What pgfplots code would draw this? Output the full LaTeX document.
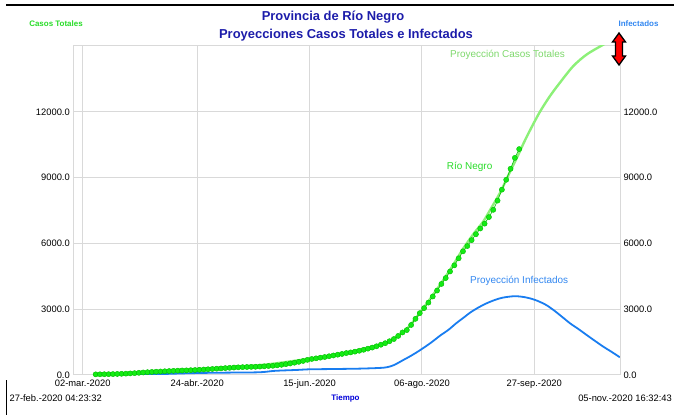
\documentclass[border=0pt]{standalone}
\usepackage{pgfplots}
\pgfplotsset{compat=1.18}
\usepackage{fontspec}
\setmainfont{Liberation Sans}

\definecolor{titleblue}{RGB}{28,28,170}
\definecolor{infblue}{RGB}{25,125,240}
\definecolor{projgreen}{RGB}{140,240,120}
\definecolor{datagreen}{RGB}{20,235,20}
\definecolor{datadark}{RGB}{0,190,0}
\definecolor{lblgreen}{RGB}{40,220,40}
\definecolor{lblblue}{RGB}{50,135,240}

\begin{document}
\begin{tikzpicture}
\useasboundingbox (0bp,0bp) rectangle (674bp,415bp);

% window decorations
\draw[black, line width=1.3bp] (6.4bp,410bp) -- (674bp,410bp);
\draw[black, line width=1bp] (6.4bp,0bp) -- (6.4bp,35bp);

\begin{axis}[
    at={(73.3bp,40bp)}, anchor=south west,
    scale only axis,
    width=546.7bp, height=329bp,
    xmin=56.65, xmax=309.66,
    ymin=0, ymax=15000,
    xtick={61,114,166,218,270},
    xticklabels={02-mar.-2020,24-abr.-2020,15-jun.-2020,06-ago.-2020,27-sep.-2020},
    ytick={0,3000,6000,9000,12000},
    yticklabels={0.0,3000.0,6000.0,9000.0,12000.0},
    scaled y ticks=false,
    grid=major,
    grid style={draw=gray!30, line width=1bp},
    axis line style={draw=gray!30, line width=1bp},
    major tick length=0pt,
    tick label style={font=\fontsize{9.4}{11}\selectfont, text=black},
    xticklabel style={yshift=-1bp},
    /pgf/number format/assume math mode=true,
    clip=true,
]
% Proyeccion Infectados
\addplot[infblue, line width=1.8bp, smooth] coordinates {
    (85.2,0) (90,20) (100,50) (110,80) (120,100) (130,110) (143,125)
    (150,190) (160,230) (166,260) (175,270) (189,290) (198,320)
    (201.7,352) (205,450) (209.4,685) (213,880) (217.1,1130) (222,1460)
    (226.4,1795) (230.2,2055) (234,2370) (237.9,2662) (240.3,2845)
    (244,3070) (248,3272) (252,3430) (255.6,3531) (261.1,3593)
    (266,3540) (270.3,3425) (275,3220) (278.8,2968) (282.5,2680)
    (286.5,2360) (290.5,2090) (294.2,1826) (298,1560) (301.9,1294)
    (306,1040) (309.6,808)
};
% Proyeccion Casos Totales
\addplot[projgreen, line width=2.4bp, smooth] coordinates {
    (66.7,20) (75,45) (87.5,120) (100,195) (113.4,260) (125,330)
    (143,450) (155,590) (166.2,750) (178,930) (189.3,1150) (196,1310)
    (201.7,1480) (206,1720) (209.4,1970) (213,2320) (217.9,2950)
    (222,3500) (227,4200) (232,4950) (237,5750) (242,6450) (246.4,7000)
    (250,7600) (254.1,8300) (258.7,9250) (262.4,10000) (265.2,10600)
    (268.5,11250) (272.6,12000) (277.2,12710) (281.8,13320) (288,14080)
    (294.2,14610) (301.2,15020) (307.4,15350)
};
% Rio Negro (datos)
\addplot[datadark, line width=0.6bp, mark=*, mark size=2.6bp,
    mark options={fill=datagreen, draw=datadark, line width=0.4bp}] coordinates {
    (67,30) (69,32) (71,35) (73,38) (75,42) (77,48) (79,55) (81,62)
    (83,72) (85,85) (87,100) (89,115) (91,128) (93,140) (95,150)
    (97,160) (99,170) (101,180) (103,190) (105,198) (107,205) (109,212)
    (111,220) (113,228) (115,238) (117,250) (119,262) (121,275)
    (123,288) (125,300) (127,315) (129,328) (131,340) (133,350)
    (135,358) (137,365) (139,370) (141,375) (143,385) (145,395)
    (147,410) (149,420) (151,440) (153,465) (155,495) (157,525)
    (159,560) (161,600) (163,640) (165,690) (167,730) (169,760)
    (171,790) (173,820) (175,855) (177,890) (179,925) (181,960)
    (183,1000) (185,1030) (187,1065) (189,1105) (191,1150) (193,1200)
    (195,1250) (197,1310) (199,1380) (201,1450) (203,1540) (205,1640)
    (207,1780) (209,1940) (211,2050) (213,2280) (215,2560) (217,2820)
    (219,3050) (221,3300) (223,3580) (225,3850) (227,4150) (229,4420)
    (231,4720) (233,5000) (235,5320) (237,5640) (239,5880) (241,6150)
    (243,6420) (245,6680) (247,6900) (249,7200) (251,7530) (253,7950)
    (255,8450) (257,8900) (259,9400) (261,9900) (263,10300)
};
\end{axis}

% right-hand axis (Infectados)
\begin{axis}[
    at={(73.3bp,40bp)}, anchor=south west,
    scale only axis,
    width=546.7bp, height=329bp,
    xmin=56.65, xmax=309.66,
    ymin=0, ymax=15000,
    axis x line=none,
    axis y line*=right,
    ytick={0,3000,6000,9000,12000},
    yticklabels={0.0,3000.0,6000.0,9000.0,12000.0},
    scaled y ticks=false,
    axis line style={draw=gray!30, line width=1bp},
    major tick length=0pt,
    tick label style={font=\fontsize{9.4}{11}\selectfont, text=black},
    /pgf/number format/assume math mode=true,
]
\end{axis}

% titles and labels
\node[font=\fontsize{13}{15}\selectfont\bfseries, text=titleblue] at (333bp,397.7bp) {Provincia de Río Negro};
\node[font=\fontsize{13}{15}\selectfont\bfseries, text=titleblue] at (346bp,380bp) {Proyecciones Casos Totales e Infectados};
\node[font=\fontsize{8}{9}\selectfont\bfseries, text=lblgreen] at (56bp,391.7bp) {Casos Totales};
\node[font=\fontsize{8}{9}\selectfont\bfseries, text=lblblue] at (638.5bp,391.7bp) {Infectados};
\node[font=\fontsize{8}{9}\selectfont\bfseries, text=blue!85!black] at (345.5bp,16.7bp) {Tiempo};
\node[font=\fontsize{9.4}{11}\selectfont, anchor=west, inner sep=0pt] at (9.4bp,16.7bp) {27-feb.-2020 04:23:32};
\node[font=\fontsize{9.4}{11}\selectfont, anchor=east, inner sep=0pt] at (672bp,16.7bp) {05-nov.-2020 16:32:43};

\node[font=\fontsize{10}{12}\selectfont, text=projgreen!90!black, anchor=west, inner sep=0pt] at (450bp,360bp) {Proyección Casos Totales};
\node[font=\fontsize{10}{12}\selectfont, text=lblgreen, anchor=west, inner sep=0pt] at (446.7bp,248bp) {Río Negro};
\node[font=\fontsize{10}{12}\selectfont, text=lblblue, anchor=west, inner sep=0pt] at (470bp,134.3bp) {Proyección Infectados};

% scroll arrow
\filldraw[fill=red, draw=black, line width=1.3bp, line join=miter]
    (619bp,382bp) -- (625.5bp,373bp) -- (622.5bp,373bp) -- (622.5bp,359bp) -- (625.5bp,359bp)
    -- (619bp,350bp) -- (612.5bp,359bp) -- (615.5bp,359bp) -- (615.5bp,373bp) -- (612.5bp,373bp) -- cycle;
\end{tikzpicture}
\end{document}
